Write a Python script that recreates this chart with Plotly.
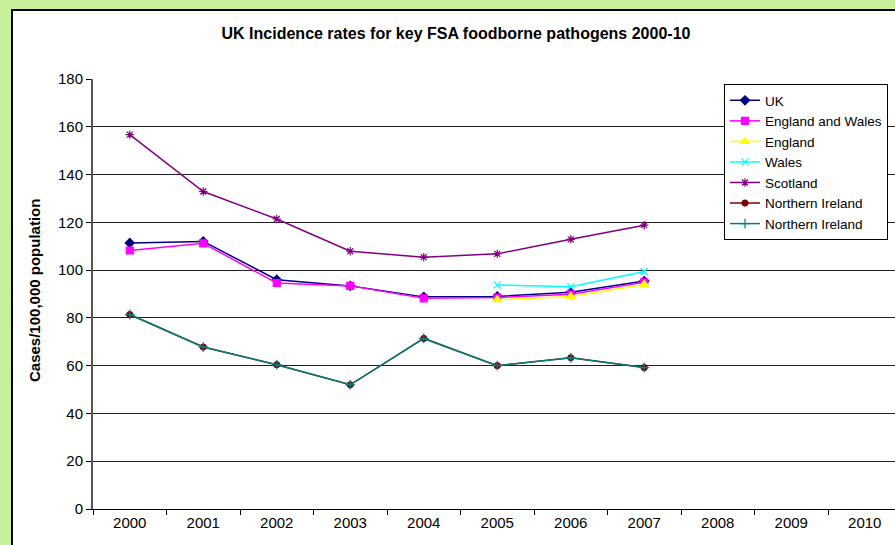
import plotly.graph_objects as go

years = [2000, 2001, 2002, 2003, 2004, 2005, 2006, 2007]
all_years = list(range(2000, 2011))
years_late = [2005, 2006, 2007]

uk = [111.4, 112.0, 96.0, 93.4, 88.8, 89.0, 90.7, 95.4]
eng_wales = [108.2, 111.2, 94.6, 93.4, 88.2, 88.5, 89.9, 94.9]
england = [87.6, 89.0, 94.0]
wales = [93.8, 93.0, 99.4]
scotland = [156.7, 132.9, 121.4, 107.9, 105.4, 106.8, 112.9, 118.8]
n_ireland = [81.4, 67.8, 60.4, 52.0, 71.4, 60.0, 63.3, 59.2]
n_ireland2 = [81.4, 67.8, 60.4, 52.0, 71.4, 60.0, 63.3, 59.2]

series = [
    ("UK", years, uk, "#000080", "diamond", 7),
    ("England and Wales", years, eng_wales, "#FF00FF", "square", 7),
    ("England", years_late, england, "#FFFF00", "triangle-up", 8),
    ("Wales", years_late, wales, "#00FFFF", "x-thin-open", 7),
    ("Scotland", years, scotland, "#800080", "asterisk-open", 7),
    ("Northern Ireland", years, n_ireland, "#800000", "circle", 6),
    ("Northern Ireland", years, n_ireland2, "#008080", "cross-thin-open", 7),
]

fig = go.Figure()
for name, xs, ys, col, sym, sz in series:
    fig.add_trace(go.Scatter(
        x=xs, y=ys, name=name, mode="lines+markers",
        line=dict(color=col, width=1.5),
        marker=dict(symbol=sym, size=sz, color=col, line=dict(color=col, width=1.2)),
    ))

W, H = 895, 545
L, T, B = 93, 79, 36
pw = W - L
ph = H - T - B

def px(xp):
    return (xp - L) / pw

def py(yp):
    return (H - B - yp) / ph

fig.update_layout(
    width=W, height=H,
    margin=dict(l=L, r=0, t=T, b=B),
    paper_bgcolor="#C8F09A",
    plot_bgcolor="white",
    font=dict(family="Arial, Liberation Sans", size=15, color="black"),
    title=dict(text="<b>UK Incidence rates for key FSA foodborne pathogens 2000-10</b>",
               font=dict(size=16), x=456 / W, xanchor="center",
               y=1 - 33 / H, yanchor="middle", xref="container", yref="container"),
    showlegend=True,
    legend=dict(x=px(724), y=py(84), xanchor="left", yanchor="top",
                bgcolor="white", bordercolor="black", borderwidth=1,
                font=dict(size=13.5), tracegroupgap=0, itemwidth=30),
    shapes=[dict(type="rect", xref="paper", yref="paper",
                 x0=px(12), x1=1.05, y0=-0.2, y1=py(10),
                 fillcolor="white", line=dict(color="black", width=2), layer="below")],
    annotations=[dict(text="<b>Cases/100,000 population</b>", textangle=-90,
                      xref="paper", yref="paper", x=px(34), y=py(291),
                      showarrow=False, font=dict(size=15), xanchor="center", yanchor="middle")],
)

fig.update_xaxes(
    range=[1999.5, 1999.5 + pw / 73.5], tickmode="array", tickvals=all_years,
    ticktext=[str(y) for y in all_years], ticks="", showgrid=False, zeroline=False,
    showline=True, linecolor="black", linewidth=1,
    minor=dict(tickmode="array", tickvals=[y + 0.5 for y in range(1999, 2011)],
               ticks="outside", ticklen=5, tickcolor="black", showgrid=False),
    tickfont=dict(size=15),
)
fig.update_yaxes(
    range=[0, 180], dtick=20, ticks="outside", ticklen=5, tickcolor="black",
    showgrid=True, gridcolor="#222222", gridwidth=1, zeroline=False,
    showline=True, linecolor="#555555", linewidth=2, tickfont=dict(size=15),
)

fig.write_html("out.html")
